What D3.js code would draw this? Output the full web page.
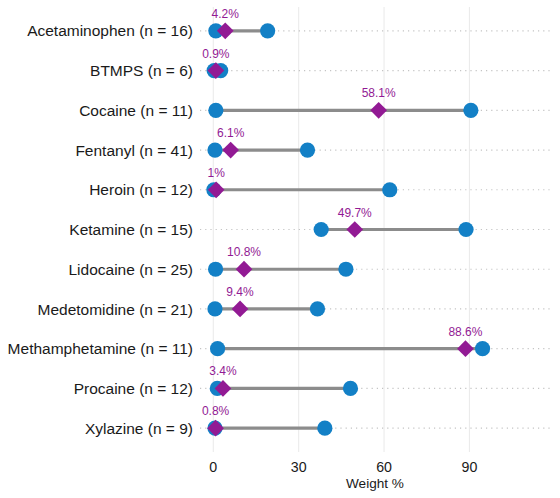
<!DOCTYPE html>
<html>
<head>
<meta charset="utf-8">
<script src="https://cdn.jsdelivr.net/npm/d3@7"></script>
<style>
  body { margin: 0; background: #fff; }
  text { font-family: "Liberation Sans", Arial, sans-serif; }
</style>
</head>
<body>
<div id="chart"></div>
<script>
// -------------------- DATA --------------------
const drugs = ["Acetaminophen", "BTMPS", "Cocaine", "Fentanyl", "Heroin", "Ketamine",
  "Lidocaine", "Medetomidine", "Methamphetamine", "Procaine", "Xylazine"];
const counts = [16, 6, 11, 41, 12, 15, 25, 21, 11, 12, 9];
const minVals = [0.9, 0.3, 0.9, 0.6, 0.2, 37.9, 0.8, 0.6, 1.5, 1.4, 0.6];
const maxVals = [19.1, 2.6, 90.5, 33.1, 62, 88.8, 46.6, 36.6, 94.6, 48.2, 39.2];
const medians = [4.2, 0.9, 58.1, 6.1, 1, 49.7, 10.8, 9.4, 88.6, 3.4, 0.8];
const xTicks = [0, 30, 60, 90];

const data = drugs.map((d, i) => ({
  label: d + " (n = " + counts[i] + ")",
  min: minVals[i], max: maxVals[i], med: medians[i]
}));

// dimensions
const width = 560, height = 498;
const margin = { left: 200, right: 550, top: 7, bottom: 452 };

const svg = d3.select("#chart").append("svg")
  .attr("width", width).attr("height", height);

const x = d3.scaleLinear().domain([-4.67, 118.3]).range([margin.left, margin.right]);
const y = d3.scalePoint().domain(data.map(d => d.label))
  .range([margin.top, margin.bottom]).padding(0.6);

// vertical grid lines
svg.selectAll(".vgrid").data(xTicks).enter().append("line")
  .attr("x1", d => x(d)).attr("x2", d => x(d))
  .attr("y1", margin.top).attr("y2", margin.bottom)
  .style("stroke", "#ebebeb").style("stroke-width", 1.1);

// dotted horizontal lines
svg.selectAll(".hgrid").data(data).enter().append("line")
  .attr("x1", margin.left).attr("x2", margin.right)
  .attr("y1", d => y(d.label)).attr("y2", d => y(d.label))
  .style("stroke", "#c4c4c4").style("stroke-width", 1.2)
  .style("stroke-dasharray", "1.2,4");

// range segments
svg.selectAll(".seg").data(data).enter().append("line")
  .attr("x1", d => x(d.min)).attr("x2", d => x(d.max))
  .attr("y1", d => y(d.label)).attr("y2", d => y(d.label))
  .style("stroke", "#8c8c8c").style("stroke-width", 3.2);

// min / max points
const pts = [];
data.forEach(d => { pts.push({ label: d.label, v: d.min }); pts.push({ label: d.label, v: d.max }); });
svg.selectAll(".pt").data(pts).enter().append("circle")
  .attr("cx", d => x(d.v)).attr("cy", d => y(d.label))
  .attr("r", 7.6).style("fill", "#1380c6");

// median diamonds
const diamond = d3.symbol().type(d3.symbolSquare).size(140);
svg.selectAll(".med").data(data).enter().append("path")
  .attr("d", diamond)
  .attr("transform", d => "translate(" + x(d.med) + "," + y(d.label) + ") rotate(45)")
  .style("fill", "#921a94");

// median labels
svg.selectAll(".medlab").data(data).enter().append("text")
  .attr("x", d => x(d.med)).attr("y", d => y(d.label) - 13)
  .attr("text-anchor", "middle")
  .style("font-size", "12px").style("fill", "#921a94")
  .text(d => d.med + "%");

// y labels
svg.selectAll(".ylab").data(data).enter().append("text")
  .attr("x", 193).attr("y", d => y(d.label))
  .attr("dy", "0.36em")
  .attr("text-anchor", "end")
  .style("font-size", "15.5px").style("fill", "#1a1a1a")
  .text(d => d.label);

// x tick labels
svg.selectAll(".xlab").data(xTicks).enter().append("text")
  .attr("x", d => x(d)).attr("y", 467)
  .attr("dy", "0.36em")
  .attr("text-anchor", "middle")
  .style("font-size", "14.2px").style("fill", "#1a1a1a")
  .text(d => d);

// axis title
svg.append("text")
  .attr("x", (margin.left + margin.right) / 2).attr("y", 488)
  .attr("text-anchor", "middle")
  .style("font-size", "13.6px").style("fill", "#1a1a1a")
  .text("Weight %");
</script>
</body>
</html>
